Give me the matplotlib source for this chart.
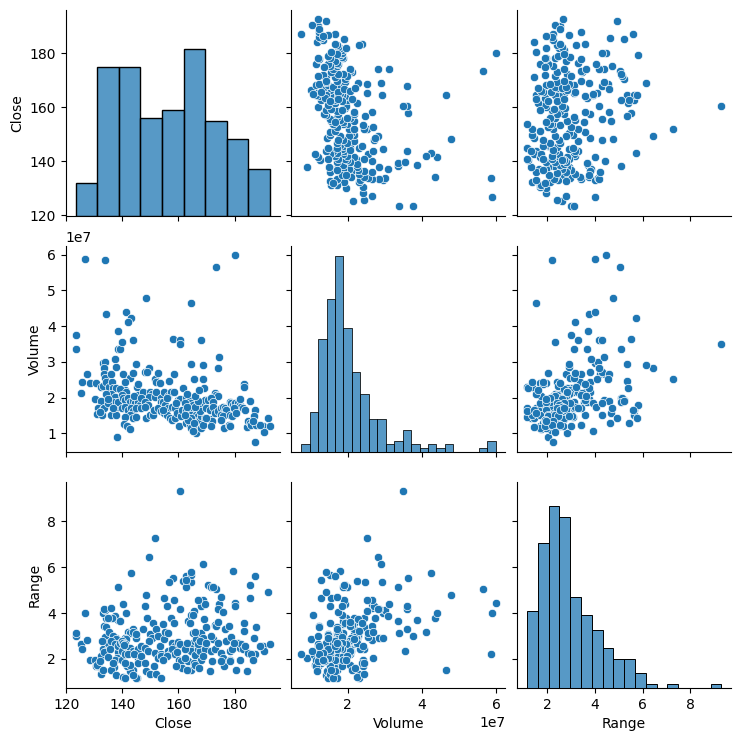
import pandas as pd
import seaborn as sns
import matplotlib.pyplot as plt

# daily values, grouped roughly by Close level
close = [
    123.3, 123.3, 125.2, 125.6, 126.6, 127.3, 128.4, 130.1, 130.5,
    133.7, 134.1, 138.5, 138.3, 133.1, 133.7, 133.5, 137.3, 137.9, 133.5,
    133.7, 136.1, 132.3, 133.0, 134.2, 135.3, 136.4, 134.9, 136.7, 137.9,
    135.9, 137.3, 134.3, 132.3, 131.4, 131.1, 133.1, 132.6, 133.5, 137.1,
    136.1, 137.9, 135.5, 138.3, 138.0, 137.3, 134.9, 138.5, 136.7, 132.0, 135.0,
    139.2, 139.7, 141.4, 143.2, 142.0, 143.9, 140.2, 142.6, 143.7, 144.7,
    145.1, 140.3, 140.9, 139.1, 141.4, 139.7, 140.3, 140.9, 142.0, 142.6,
    143.8, 144.4, 145.6, 146.2, 139.7, 140.9, 142.0, 143.2, 143.8, 145.0,
    142.6, 143.8, 145.0, 140.9, 140.5, 141.6, 142.6, 145.6, 140.9, 145.4, 144.2,
    148.3, 148.0, 149.4, 148.8, 147.4, 149.8, 150.4, 149.4, 146.8, 148.0,
    149.2, 146.8, 148.0, 148.6, 149.8, 151.0, 151.3, 151.8, 152.1, 151.8,
    151.9, 152.7, 153.3, 153.7, 153.9, 152.7, 153.9,
    158.0, 160.5, 160.5, 158.4, 156.6, 161.6, 155.0, 156.2, 157.4, 158.4,
    154.6, 155.2, 156.4, 157.6, 158.8, 159.9, 160.4, 154.9, 155.8, 157.0,
    157.6, 158.9, 159.5, 160.1, 161.0, 161.4, 156.0, 154.4, 159.0,
    164.4, 167.9, 164.4, 165.4, 168.9, 168.6, 169.0, 162.8, 163.4, 164.0,
    164.6, 165.2, 162.8, 164.0, 164.4, 165.2, 166.4, 167.0, 162.8, 164.0,
    164.6, 165.8, 166.4, 167.0, 167.6, 168.2, 169.3, 168.2, 168.8, 169.3,
    167.0, 167.6, 165.8, 162.2, 163.2, 168.2, 168.8, 164.6, 163.4, 162.2,
    165.5, 166.8, 166.0, 163.0, 167.3, 165.0,
    173.5, 174.3, 174.1, 172.9, 173.5, 174.1, 170.5, 171.7, 172.3, 169.9,
    171.1, 172.3, 171.5, 171.8, 171.5, 169.9, 172.9, 174.1, 175.3, 175.9,
    176.5, 177.1, 175.3, 175.9, 176.2, 175.0,
    180.0, 183.3, 183.2, 178.2, 178.8, 179.4, 180.0, 181.2, 181.8, 182.4,
    183.0, 178.2, 179.1, 177.9, 178.2, 184.3, 184.8, 183.6, 179.8, 180.6, 182.0,
    185.4, 187.1, 186.9, 187.1, 185.5, 186.0, 187.7, 190.1, 190.4, 191.9,
    192.6, 188.9, 186.5,
]

# volume in units of 1e7 shares
volume_e7 = [
    3.75, 3.37, 2.13, 2.43, 5.87, 2.66, 2.41, 1.96, 2.41,
    5.86, 4.35, 3.85, 3.36, 2.96, 3.00, 2.83, 3.07, 2.85, 2.65,
    2.54, 2.65, 2.30, 2.32, 2.44, 2.30, 2.44, 1.86, 2.28, 2.26,
    2.09, 2.02, 2.09, 1.91, 1.70, 1.54, 1.68, 1.51, 1.70, 1.56,
    1.51, 1.50, 1.88, 1.74, 0.89, 1.88, 1.84, 1.88, 1.70, 1.60, 1.95,
    3.36, 3.54, 4.40, 4.23, 4.10, 3.60, 2.65, 2.54, 2.69, 2.94,
    2.30, 2.26, 2.21, 2.24, 2.16, 2.07, 1.98, 1.93, 1.98, 1.88,
    1.91, 1.84, 1.88, 1.79, 1.70, 1.74, 1.65, 1.70, 1.61, 1.70,
    1.51, 1.42, 1.46, 1.46, 1.25, 1.21, 1.12, 2.38, 2.44, 2.07, 2.05,
    4.77, 2.70, 2.82, 2.72, 2.16, 2.16, 2.09, 2.02, 1.98, 1.88,
    1.79, 1.70, 1.74, 1.44, 1.51, 1.51, 1.65, 2.02, 2.16, 2.51,
    2.44, 2.68, 2.40, 1.98, 1.88, 1.70, 1.61,
    3.63, 3.60, 3.49, 2.65, 2.46, 2.26, 2.16, 2.05, 2.16, 2.16,
    1.88, 1.79, 1.70, 1.74, 1.70, 1.93, 1.95, 1.56, 1.51, 1.42,
    1.37, 1.42, 1.56, 1.21, 1.47, 1.65, 1.98, 1.65, 1.85,
    4.63, 3.60, 2.93, 2.51, 2.90, 2.51, 2.28, 1.98, 1.88, 1.93,
    1.84, 1.79, 1.65, 1.61, 1.51, 1.40, 1.51, 1.47, 1.28, 1.22,
    1.14, 1.09, 1.00, 1.33, 1.37, 1.47, 1.42, 1.88, 1.84, 1.93,
    1.70, 1.61, 1.74, 1.84, 1.74, 1.14, 1.22, 1.42, 1.38, 1.51,
    1.28, 1.90, 2.05, 2.10, 2.20, 1.05,
    5.64, 3.12, 2.82, 2.12, 2.07, 2.05, 1.93, 1.98, 1.88, 1.70,
    1.65, 1.74, 1.40, 1.33, 1.21, 1.42, 1.56, 1.61, 1.70, 1.74,
    1.70, 1.65, 1.51, 1.47, 1.14, 1.36,
    5.98, 2.37, 2.30, 1.88, 1.84, 1.79, 1.84, 1.84, 1.79, 1.74,
    1.70, 1.51, 1.47, 1.23, 1.19, 1.17, 1.33, 1.65, 1.70, 1.56, 1.95,
    1.90, 1.65, 1.47, 0.745, 1.28, 1.23, 1.23, 1.19, 1.03, 1.42,
    1.21, 1.22, 1.33,
]

# daily high - low
day_range = [
    2.99, 3.14, 2.63, 2.41, 4.01, 2.80, 1.94, 1.97, 1.68,
    2.19, 3.77, 3.69, 5.11, 3.99, 4.13, 4.19, 3.85, 2.90, 3.43,
    2.95, 4.20, 1.36, 2.45, 3.39, 3.17, 3.80, 2.70, 2.99, 2.85,
    2.77, 2.63, 2.34, 2.12, 1.68, 1.75, 1.53, 2.77, 2.30, 1.64,
    1.53, 1.31, 2.41, 2.29, 2.04, 1.97, 2.09, 2.55, 1.82, 1.90, 3.77,
    3.65, 2.34, 4.01, 5.72, 3.18, 3.28, 4.41, 3.14, 3.17, 2.92,
    1.17, 1.20, 2.92, 2.70, 2.85, 2.77, 2.70, 2.63, 2.41, 2.48,
    2.34, 2.26, 2.04, 1.97, 1.97, 2.20, 2.19, 1.53, 1.53, 1.15,
    1.46, 1.31, 3.07, 1.17, 2.60, 1.68, 1.75, 1.82, 1.82, 2.41, 2.23,
    4.76, 4.31, 6.42, 3.80, 3.28, 3.07, 2.92, 2.77, 2.55, 2.48,
    2.34, 2.12, 1.82, 1.45, 1.36, 3.58, 1.68, 2.26, 3.28, 7.27,
    1.36, 2.04, 2.55, 2.19, 2.12, 2.99, 1.17,
    5.52, 4.19, 9.30, 4.57, 5.33, 5.40, 2.85, 2.34, 3.80, 3.58,
    3.53, 3.17, 3.14, 2.70, 2.55, 2.73, 2.63, 4.67, 4.31, 2.19,
    2.41, 2.19, 2.29, 1.97, 1.90, 1.61, 2.12, 1.97, 1.68,
    1.53, 4.31, 5.36, 4.09, 6.12, 4.55, 3.75, 5.11, 3.65, 3.58,
    3.91, 3.11, 5.62, 2.45, 5.65, 2.70, 1.68, 3.04, 5.43, 2.48,
    2.34, 2.15, 2.85, 2.41, 2.34, 2.70, 2.41, 3.14, 2.92, 4.38,
    2.63, 2.77, 3.17, 2.41, 2.70, 1.97, 2.12, 5.77, 1.90, 2.04,
    1.82, 4.57, 1.75, 1.53, 1.61, 3.90,
    5.04, 4.38, 4.19, 3.46, 3.43, 3.61, 5.20, 5.15, 5.11, 3.40,
    1.46, 2.85, 2.34, 1.90, 2.99, 2.70, 2.41, 2.70, 4.70, 4.04,
    3.28, 2.77, 2.26, 2.04, 1.68, 1.90,
    4.45, 3.58, 3.21, 1.97, 2.95, 5.81, 4.31, 2.70, 2.48, 2.63,
    2.41, 2.34, 2.45, 3.43, 1.90, 1.46, 2.25, 2.55, 2.70, 1.53, 1.97,
    5.20, 5.59, 2.90, 2.23, 4.64, 2.19, 3.40, 2.55, 2.34, 4.93,
    2.66, 2.55, 1.97,
]

# number of histogram bins seen on the diagonal
n_bins = {"Close": 9, "Volume": 23, "Range": 18}

df = pd.DataFrame({
    "Close": close,
    "Volume": [v * 1e7 for v in volume_e7],
    "Range": day_range,
})


def diag_hist(x, **kws):
    sns.histplot(x=x, bins=n_bins[x.name], color=kws.get("color"), ax=plt.gca())


g = sns.PairGrid(df)
g.map_diag(diag_hist)
g.map_offdiag(sns.scatterplot)
g.tight_layout()
plt.savefig("out.png", dpi=100, bbox_inches="tight")
